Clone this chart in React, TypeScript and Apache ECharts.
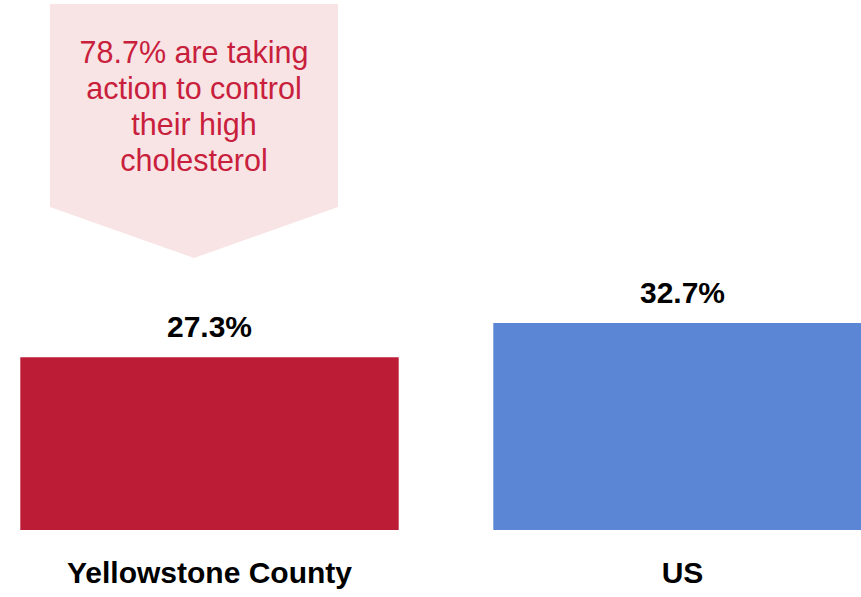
import React, { useEffect, useRef } from "react";
import * as echarts from "echarts";

const categories = ["Yellowstone County", "US"];
const values = [27.3, 32.7];
const barColors = ["#BD1C36", "#5B86D5"];
const calloutLines = ["78.7% are taking", "action to control", "their high", "cholesterol"];

const OFFSET = 27;

export default function App() {
  const ref = useRef<HTMLDivElement>(null);
  useEffect(() => {
    if (!ref.current) return;
    const chart = echarts.init(ref.current, undefined, { renderer: "svg" });
    const boldFont = '"Liberation Sans", Arial, sans-serif';
    chart.setOption({
      animation: false,
      backgroundColor: "#ffffff",
      grid: { left: 0, right: 0, top: 213.5, bottom: 67, containLabel: false },
      xAxis: {
        type: "category",
        data: categories,
        axisLine: { show: false },
        axisTick: { show: false },
        axisLabel: {
          interval: 0,
          margin: 27,
          color: "#000000",
          fontFamily: boldFont,
          fontWeight: "bold",
          fontSize: 30,
        },
      },
      yAxis: {
        type: "value",
        min: 0,
        max: 50,
        show: false,
        splitLine: { show: false },
      },
      series: [
        {
          type: "bar",
          barWidth: "80%",
          data: values.map((v, i) => ({ value: v, itemStyle: { color: barColors[i] } })),
          label: {
            show: true,
            position: "top",
            distance: 16,
            formatter: (p: any) => p.value.toFixed(1) + "%",
            color: "#000000",
            fontFamily: boldFont,
            fontWeight: "bold",
            fontSize: 30,
          },
        },
      ],
      graphic: [
        {
          type: "polygon",
          shape: {
            points: [
              [50 + OFFSET, 4],
              [338 + OFFSET, 4],
              [338 + OFFSET, 207],
              [194 + OFFSET, 258],
              [50 + OFFSET, 207],
            ],
          },
          style: { fill: "#F9E4E5" },
          z: 0,
        },
        {
          type: "text",
          x: 194 + OFFSET,
          y: 34,
          style: {
            text: calloutLines.join("\n"),
            align: "center",
            verticalAlign: "top",
            fill: "#C8203C",
            fontFamily: '"Liberation Sans", Arial, sans-serif',
            fontSize: 30.5,
            lineHeight: 36,
          },
          z: 1,
        },
      ],
    });
    return () => chart.dispose();
  }, []);
  return (
    <div
      style={{
        position: "fixed",
        left: 0,
        top: 0,
        width: 861,
        height: 597,
        overflow: "hidden",
        background: "#ffffff",
      }}
    >
      <div
        ref={ref}
        style={{ position: "absolute", left: -OFFSET, top: 0, width: 946, height: 597 }}
      />
    </div>
  );
}
